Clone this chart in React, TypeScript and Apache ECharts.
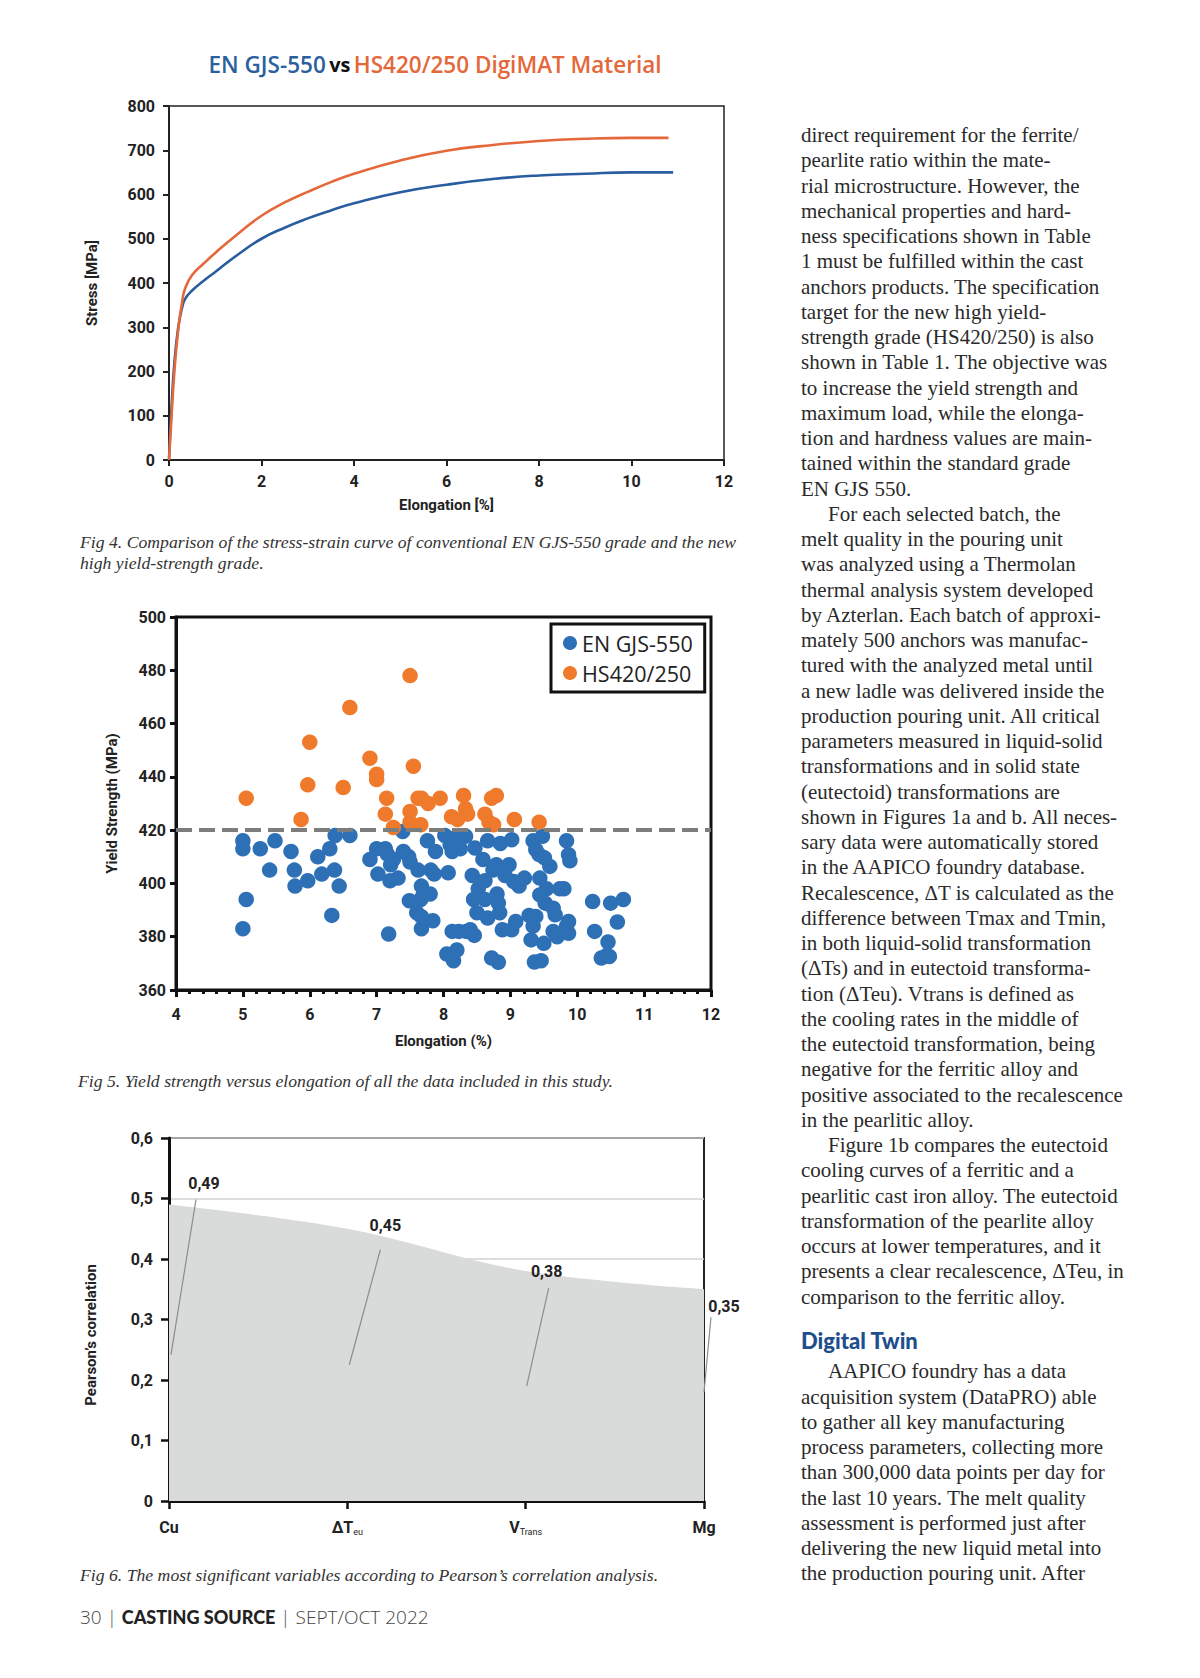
import React, { useEffect, useRef } from "react";
import * as echarts from "echarts";

// ---------- Fig 4: stress-strain curves ----------
const enGjsCurveElong = [0, 0.05, 0.12, 0.2, 0.28, 0.35, 0.5, 0.75, 1, 1.5, 2, 2.5, 3, 3.5, 4, 5, 6, 7, 8, 9, 10, 10.9];
const enGjsCurveStress = [0, 110, 225, 300, 343, 364, 383, 405, 425, 465, 500, 525, 546, 564, 580, 605, 622, 635, 643, 647, 650, 650];
const hsCurveElong = [0, 0.05, 0.12, 0.2, 0.28, 0.35, 0.5, 0.75, 1, 1.5, 2, 2.5, 3, 3.5, 4, 5, 6, 7, 8, 9, 10, 10.8];
const hsCurveStress = [0, 90, 205, 295, 355, 388, 418, 444, 468, 512, 552, 582, 606, 628, 647, 677, 699, 712, 721, 726, 728, 728];

// ---------- Fig 5: yield strength vs elongation ----------
const enGjs550Points: [number, number][] = [
  [5.0, 416], [5.0, 413], [5.05, 394], [5.0, 383], [5.26, 413], [5.48, 416], [5.4, 405], [5.72, 412], [5.77, 405], [5.78, 399],
  [5.97, 401], [6.12, 410], [6.18, 403.5], [6.3, 413], [6.37, 405], [6.38, 418], [6.44, 399], [6.33, 388], [6.6, 418], [6.9, 409],
  [7.0, 413], [7.02, 403.5], [7.13, 413], [7.16, 411], [7.21, 407], [7.25, 409], [7.2, 401], [7.32, 402], [7.18, 381], [7.39, 419.5],
  [7.4, 412], [7.48, 410], [7.5, 408], [7.49, 393.5], [7.6, 389], [7.62, 405], [7.67, 399], [7.7, 396], [7.67, 383], [7.76, 416],
  [7.81, 405], [7.8, 396], [7.84, 386], [7.86, 403.5], [7.66, 394], [7.67, 387.5], [7.88, 412], [8.02, 418], [8.07, 404], [8.1, 414.5],
  [8.13, 412], [8.16, 417], [8.25, 413], [8.05, 373.5], [8.15, 371], [8.2, 375], [8.13, 382], [8.23, 382], [8.34, 382], [8.4, 382.6],
  [8.46, 380.5], [8.33, 417.7], [8.47, 413.3], [8.43, 403], [8.45, 394], [8.5, 389], [8.52, 398], [8.59, 409], [8.62, 401], [8.66, 416],
  [8.62, 394], [8.66, 387], [8.72, 372], [8.82, 370.4], [8.74, 405], [8.79, 407], [8.8, 396], [8.82, 392.6], [8.84, 389], [8.85, 415],
  [8.88, 382.6], [8.92, 403], [8.98, 407], [9.02, 416.4], [9.02, 382.6], [9.05, 400.7], [9.08, 385.7], [9.13, 399], [9.21, 402], [9.28, 388],
  [9.31, 378.8], [9.34, 416], [9.38, 412.7], [9.34, 384], [9.38, 387.6], [9.36, 370.5], [9.46, 371], [9.43, 410.8], [9.44, 402], [9.44, 395.7],
  [9.48, 417.7], [9.5, 377.5], [9.51, 409.6], [9.54, 398], [9.52, 392.6], [9.59, 406.4], [9.64, 390.7], [9.67, 388.2], [9.64, 382], [9.7, 380],
  [9.74, 398], [9.8, 398], [9.84, 416], [9.87, 410.8], [9.89, 408.5], [9.87, 385.7], [9.87, 381.3], [9.84, 384], [10.23, 393.2], [10.26, 382],
  [10.36, 372], [10.44, 373], [10.46, 378], [10.48, 372.6], [10.5, 392.6], [10.6, 385.5], [10.69, 394],
];
const hs420Points: [number, number][] = [
  [5.05, 432], [5.87, 424], [6.0, 453], [5.97, 437], [6.6, 466], [6.5, 436], [6.9, 447], [7.0, 441], [7.0, 439], [7.15, 432],
  [7.13, 426], [7.25, 421], [7.5, 478], [7.55, 444], [7.5, 427], [7.5, 423], [7.62, 432], [7.67, 432], [7.77, 430], [7.66, 422],
  [7.95, 432], [8.12, 425], [8.21, 424], [8.3, 433], [8.33, 428], [8.36, 426], [8.62, 426], [8.68, 423], [8.72, 432], [8.79, 433],
  [8.75, 422], [9.06, 424], [9.43, 423],
];
const yieldTarget = 420;

// ---------- Fig 6: Pearson's correlation ----------
const pearsonMain = ["Cu", "ΔT", "V", "Mg"];
const pearsonSub = ["", "eu", "Trans", ""];
const pearsonValues = [0.49, 0.45, 0.38, 0.35];

// label / leader placement (layout, pixels relative to the point)
const pearsonLabelOffsets = [[35, -21], [38, -3], [21, 0], [20, 17]];
const pearsonLeaderOffsets = [[27, -5, 2, 150], [33, 21, 2, 136], [23, 17, 1, 115], [7, 28, 0, 103]];

// ---------- Text column ----------
const para1 = [
  "direct requirement for the ferrite/",
  "pearlite ratio within the mate-",
  "rial microstructure. However, the",
  "mechanical properties and hard-",
  "ness specifications shown in Table",
  "1 must be fulfilled within the cast",
  "anchors products. The specification",
  "target for the new high yield-",
  "strength grade (HS420/250) is also",
  "shown in Table 1. The objective was",
  "to increase the yield strength and",
  "maximum load, while the elonga-",
  "tion and hardness values are main-",
  "tained within the standard grade",
  "EN GJS 550.",
];
const para2 = [
  "For each selected batch, the",
  "melt quality in the pouring unit",
  "was analyzed using a Thermolan",
  "thermal analysis system developed",
  "by Azterlan. Each batch of approxi-",
  "mately 500 anchors was manufac-",
  "tured with the analyzed metal until",
  "a new ladle was delivered inside the",
  "production pouring unit. All critical",
  "parameters measured in liquid-solid",
  "transformations and in solid state",
  "(eutectoid) transformations are",
  "shown in Figures 1a and b. All neces-",
  "sary data were automatically stored",
  "in the AAPICO foundry database.",
  "Recalescence, ΔT is calculated as the",
  "difference between Tmax and Tmin,",
  "in both liquid-solid transformation",
  "(ΔTs) and in eutectoid transforma-",
  "tion (ΔTeu). Vtrans is defined as",
  "the cooling rates in the middle of",
  "the eutectoid transformation, being",
  "negative for the ferritic alloy and",
  "positive associated to the recalescence",
  "in the pearlitic alloy.",
];
const para3 = [
  "Figure 1b compares the eutectoid",
  "cooling curves of a ferritic and a",
  "pearlitic cast iron alloy. The eutectoid",
  "transformation of the pearlite alloy",
  "occurs at lower temperatures, and it",
  "presents a clear recalescence, ΔTeu, in",
  "comparison to the ferritic alloy.",
];
const sectionHeading = "Digital Twin";
const para4 = [
  "AAPICO foundry has a data",
  "acquisition system (DataPRO) able",
  "to gather all key manufacturing",
  "process parameters, collecting more",
  "than 300,000 data points per day for",
  "the last 10 years. The melt quality",
  "assessment is performed just after",
  "delivering the new liquid metal into",
  "the production pouring unit. After",
];

const caption4a = "Fig 4. Comparison of the stress-strain curve of conventional EN GJS-550 grade and the new";
const caption4b = "high yield-strength grade.";
const caption5 = "Fig 5. Yield strength versus elongation of all the data included in this study.";
const caption6 = "Fig 6. The most significant variables according to Pearson\u2019s correlation analysis.";

const COND = "Roboto, 'Liberation Sans Narrow', sans-serif";
const SERIF = "'Liberation Serif', 'DejaVu Serif', serif";

const zip = (a: number[], b: number[]) => a.map((v, i) => [v, b[i]]);
const fmtComma = (v: number) => (v === 0 ? "0" : v.toFixed(2).replace(".", ","));

function buildOption() {
  const tickLabel = { fontFamily: COND, fontWeight: "bold" as const, fontSize: 16, color: "#222" };
  const nameStyle = { fontFamily: COND, fontWeight: "bold" as const, fontSize: 15, color: "#222" };

  const elements: any[] = [];
  // Title of Fig 4
  elements.push({
    type: "text",
    x: 435,
    y: 64,
    style: {
      text: "{b|EN GJS-550} {k|vs} {o|HS420/250 DigiMAT Material}",
      align: "center",
      verticalAlign: "middle",
      rich: {
        b: { fontFamily: "'Open Sans', sans-serif", fontWeight: 600, fontSize: 22.5, fill: "#2b5f9e", color: "#2b5f9e" },
        k: { fontFamily: "'Open Sans', sans-serif", fontWeight: 700, fontSize: 20, fill: "#111", color: "#111" },
        o: { fontFamily: "'Open Sans', sans-serif", fontWeight: 600, fontSize: 22.5, fill: "#e4683a", color: "#e4683a" },
      },
    },
  });
  const cap = (text: string, x: number, y: number) => ({
    type: "text",
    x,
    y,
    style: { text, fontFamily: SERIF, fontStyle: "italic", fontSize: 17.7, fill: "#333", verticalAlign: "middle" },
  });
  elements.push(cap(caption4a, 80, 542));
  elements.push(cap(caption4b, 80, 563));
  elements.push(cap(caption5, 78, 1081));
  elements.push(cap(caption6, 80, 1575));
  // Fig 6 y axis name
  elements.push({
    type: "text",
    x: 91,
    y: 1335,
    rotation: Math.PI / 2,
    style: { text: "Pearson\u2019s correlation", fontFamily: COND, fontWeight: "bold", fontSize: 15, fill: "#222", align: "center", verticalAlign: "middle" },
  });
  // Footer
  elements.push({
    type: "text",
    x: 80,
    y: 1617,
    style: {
      text: "{n|30 }{p|| }{b|CASTING SOURCE}{p| | }{n|SEPT/OCT 2022}",
      verticalAlign: "middle",
      rich: {
        n: { fontFamily: "'Open Sans', sans-serif", fontWeight: 300, fontSize: 19, fill: "#444", color: "#444" },
        p: { fontFamily: "'Open Sans', sans-serif", fontWeight: 300, fontSize: 19, fill: "#555", color: "#555" },
        b: { fontFamily: "Lato, sans-serif", fontWeight: 900, fontSize: 18, fill: "#222", color: "#222" },
      },
    },
  });
  // Text column
  const colX = 801;
  const lineH = 25.25;
  const bodyStyle = { fontFamily: SERIF, fontSize: 21, fill: "#2a2a2a", verticalAlign: "middle" };
  const body = [
    ...para1.map((t, i) => ({ t, indent: false, k: i })),
    ...para2.map((t, i) => ({ t, indent: i === 0, k: para1.length + i })),
    ...para3.map((t, i) => ({ t, indent: i === 0, k: para1.length + para2.length + i })),
  ];
  body.forEach(({ t, indent, k }) => {
    elements.push({ type: "text", x: colX + (indent ? 27 : 0), y: 135 + k * lineH, style: { ...bodyStyle, text: t } });
  });
  elements.push({
    type: "text",
    x: colX,
    y: 1340,
    style: { text: sectionHeading, fontFamily: "Lato, sans-serif", fontWeight: 900, fontSize: 22, fill: "#1f4e8d", verticalAlign: "middle" },
  });
  para4.forEach((t, i) => {
    elements.push({ type: "text", x: colX + (i === 0 ? 27 : 0), y: 1371.3 + i * lineH, style: { ...bodyStyle, text: t } });
  });

  return {
    animation: false,
    backgroundColor: "#fff",
    grid: [
      { left: 169, top: 106, width: 555, height: 354, show: true, borderColor: "#222", borderWidth: 1.5 },
      { left: 176, top: 617, width: 535, height: 373, show: true, borderColor: "#111", borderWidth: 3 },
      { left: 169, top: 1138, width: 535, height: 363, show: true, borderColor: "#222", borderWidth: 2 },
    ],
    legend: {
      data: ["EN GJS-550", "HS420/250"],
      orient: "vertical",
      left: 551,
      top: 624,
      padding: [8, 12, 8, 12],
      itemGap: 8,
      icon: "circle",
      itemWidth: 14,
      itemHeight: 14,
      backgroundColor: "#fff",
      borderColor: "#111",
      borderWidth: 3,
      textStyle: { fontFamily: "'Open Sans', sans-serif", fontSize: 21.5, color: "#222" },
    },
    xAxis: [
      {
        gridIndex: 0,
        type: "value",
        min: 0,
        max: 12,
        interval: 2,
        axisLine: { show: true, onZero: false, lineStyle: { color: "#222", width: 2 } },
        axisTick: { show: true, length: 6, lineStyle: { color: "#222", width: 2 } },
        axisLabel: { ...tickLabel, margin: 13 },
        splitLine: { show: false },
        name: "Elongation [%]",
        nameLocation: "middle",
        nameGap: 37,
        nameTextStyle: nameStyle,
      },
      {
        gridIndex: 1,
        type: "value",
        min: 4,
        max: 12,
        interval: 1,
        axisLine: { show: true, onZero: false, lineStyle: { color: "#111", width: 3 } },
        axisTick: { show: true, length: 7, lineStyle: { color: "#111", width: 3 } },
        minorTick: { show: true, splitNumber: 5, length: 4, lineStyle: { color: "#111", width: 3 } },
        axisLabel: { ...tickLabel, fontSize: 16, margin: 16 },
        splitLine: { show: false },
        name: "Elongation (%)",
        nameLocation: "middle",
        nameGap: 43,
        nameTextStyle: nameStyle,
      },
      {
        gridIndex: 2,
        type: "category",
        boundaryGap: false,
        data: pearsonMain.map((m, i) => m + pearsonSub[i]),
        axisLine: { show: true, lineStyle: { color: "#111", width: 3 } },
        axisTick: { show: true, length: 8, alignWithLabel: true, lineStyle: { color: "#111", width: 2.5 } },
        axisLabel: {
          margin: 17,
          formatter: (_v: string, i: number) => `{m|${pearsonMain[i]}}{s|${pearsonSub[i]}}`,
          rich: {
            m: { fontFamily: COND, fontWeight: "bold", fontSize: 16, color: "#222" },
            s: { fontFamily: COND, fontSize: 9, color: "#222", padding: [9, 0, 0, 0] },
          },
        },
        splitLine: { show: false },
      },
    ],
    yAxis: [
      {
        gridIndex: 0,
        type: "value",
        min: 0,
        max: 800,
        interval: 100,
        axisLine: { show: true, onZero: false, lineStyle: { color: "#222", width: 2 } },
        axisTick: { show: true, length: 6, lineStyle: { color: "#222", width: 2 } },
        axisLabel: { ...tickLabel, margin: 14 },
        splitLine: { show: false },
        name: "Stress [MPa]",
        nameLocation: "middle",
        nameGap: 70,
        nameTextStyle: nameStyle,
      },
      {
        gridIndex: 1,
        type: "value",
        min: 360,
        max: 500,
        interval: 20,
        axisLine: { show: true, onZero: false, lineStyle: { color: "#111", width: 3 } },
        axisTick: { show: true, length: 6, lineStyle: { color: "#111", width: 3 } },
        axisLabel: { ...tickLabel, fontSize: 16, margin: 10 },
        splitLine: { show: false },
        name: "Yield Strength (MPa)",
        nameLocation: "middle",
        nameGap: 57,
        nameTextStyle: nameStyle,
      },
      {
        gridIndex: 2,
        type: "value",
        min: 0,
        max: 0.6,
        interval: 0.1,
        axisLine: { show: true, lineStyle: { color: "#111", width: 3 } },
        axisTick: { show: true, length: 8, lineStyle: { color: "#111", width: 2.5 } },
        axisLabel: {
          ...tickLabel,
          fontSize: 16,
          margin: 16,
          formatter: (v: number) => (v === 0 ? "0" : v.toFixed(1).replace(".", ",")),
        },
        splitLine: { show: true, lineStyle: { color: "#d2d2d2", width: 1.5 } },
      },
    ],
    series: [
      {
        name: "EN GJS-550 curve",
        type: "line",
        xAxisIndex: 0,
        yAxisIndex: 0,
        data: zip(enGjsCurveElong, enGjsCurveStress),
        showSymbol: false,
        smooth: 0.5,
        lineStyle: { color: "#2a5d9f", width: 2.6 },
        itemStyle: { color: "#2a5d9f" },
      },
      {
        name: "HS420/250 curve",
        type: "line",
        xAxisIndex: 0,
        yAxisIndex: 0,
        data: zip(hsCurveElong, hsCurveStress),
        showSymbol: false,
        smooth: 0.5,
        lineStyle: { color: "#e4683a", width: 2.6 },
        itemStyle: { color: "#e4683a" },
      },
      {
        name: "EN GJS-550",
        type: "scatter",
        xAxisIndex: 1,
        yAxisIndex: 1,
        data: enGjs550Points,
        symbolSize: 15.5,
        itemStyle: { color: "#2e70b6", opacity: 1 },
        z: 2,
        markLine: {
          silent: true,
          symbol: "none",
          label: { show: false },
          lineStyle: { color: "#7d7d7d", width: 4, type: [16, 7] },
          data: [{ yAxis: yieldTarget }],
        },
      },
      {
        name: "HS420/250",
        type: "scatter",
        xAxisIndex: 1,
        yAxisIndex: 1,
        data: hs420Points,
        symbolSize: 15.5,
        itemStyle: { color: "#f07a2b", opacity: 1 },
        z: 3,
      },
      {
        name: "Pearson",
        type: "line",
        xAxisIndex: 2,
        yAxisIndex: 2,
        data: pearsonValues,
        showSymbol: false,
        smooth: 0.35,
        lineStyle: { width: 0, color: "#d9dbda" },
        areaStyle: { color: "#d9dbda", opacity: 1 },
        z: 2,
      },
      {
        name: "Pearson labels",
        type: "custom",
        xAxisIndex: 2,
        yAxisIndex: 2,
        data: pearsonValues.map((v, i) => [i, v]),
        z: 5,
        renderItem: (params: any, api: any) => {
          const i = params.dataIndex;
          const p = api.coord([api.value(0), api.value(1)]);
          const [lx, ly] = pearsonLabelOffsets[i];
          const [a, b, c, d] = pearsonLeaderOffsets[i];
          return {
            type: "group",
            children: [
              {
                type: "line",
                shape: { x1: p[0] + a, y1: p[1] + b, x2: p[0] + c, y2: p[1] + d },
                style: { stroke: "#8c8c8c", lineWidth: 1.2 },
              },
              {
                type: "text",
                style: {
                  text: fmtComma(api.value(1)),
                  x: p[0] + lx,
                  y: p[1] + ly,
                  align: "center",
                  verticalAlign: "middle",
                  fontFamily: COND,
                  fontWeight: "bold",
                  fontSize: 16,
                  fill: "#222",
                },
              },
            ],
          };
        },
      },
    ],
    graphic: { elements },
  };
}

export default function App() {
  const ref = useRef<HTMLDivElement>(null);
  useEffect(() => {
    if (!ref.current) return;
    const chart = echarts.init(ref.current, null, { renderer: "svg", width: 1200, height: 1678 });
    chart.setOption(buildOption() as any);
    return () => chart.dispose();
  }, []);
  return (
    <div
      ref={ref}
      style={{ position: "absolute", left: 0, top: 0, width: 1200, height: 1678, background: "#fff" }}
    />
  );
}
